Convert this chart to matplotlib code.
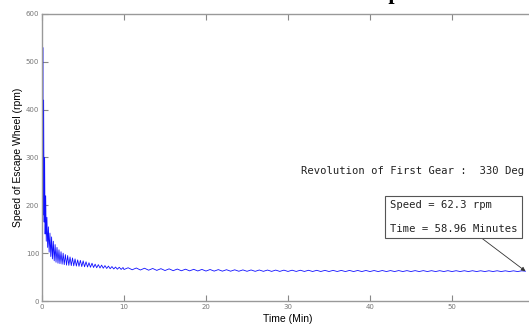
import matplotlib
matplotlib.use("Agg")
import matplotlib.pyplot as plt

# oscillation peaks / troughs (time in min, speed in rpm)
peak_t = [0.00, 0.10, 0.20, 0.32, 0.45, 0.60, 0.78, 0.97, 1.17, 1.38, 1.60, 1.83,
          2.07, 2.32, 2.58, 2.85, 3.13, 3.42, 3.72, 4.03, 4.35, 4.68, 5.02, 5.37,
          5.73, 6.10, 6.48, 6.87, 7.27, 7.68, 8.10, 8.53, 8.97, 9.42, 9.88,
          10.5, 11.5, 12.5, 13.5, 14.5, 15.5, 16.5, 17.5, 18.5, 19.5, 20.5, 21.5,
          22.5, 23.5, 24.5, 25.5, 26.5, 27.5, 28.5, 29.5, 30.5, 31.5, 32.5, 33.5,
          34.5, 35.5, 36.5, 37.5, 38.5, 39.5, 40.5, 41.5, 42.5, 43.5, 44.5, 45.5,
          46.5, 47.5, 48.5, 49.5, 50.5, 51.5, 52.5, 53.5, 54.5, 55.5, 56.5, 57.5,
          58.5]
peak_v = [578, 530, 420, 300, 220, 175, 155, 142, 134, 125, 118, 112,
          107, 103, 100, 97, 95, 92, 90, 88, 86, 85, 84, 82,
          80, 79, 77, 76, 75, 74, 73, 72, 71, 70.5, 70,
          69.5, 69, 68.5, 68, 67.6, 67.2, 66.8, 66.5, 66.2, 66, 65.8, 65.6,
          65.4, 65.2, 65, 64.9, 64.8, 64.7, 64.6, 64.5, 64.4, 64.3, 64.2, 64.1,
          64, 64, 63.9, 63.9, 63.8, 63.8, 63.7, 63.7, 63.6, 63.6, 63.5, 63.5,
          63.5, 63.4, 63.4, 63.4, 63.3, 63.3, 63.3, 63.2, 63.2, 63.2, 63.1, 63.1,
          63.1]

trough_t = [0.05, 0.15, 0.26, 0.38, 0.52, 0.69, 0.87, 1.07, 1.27, 1.49, 1.71,
            1.95, 2.19, 2.45, 2.71, 2.99, 3.27, 3.57, 3.87, 4.19, 4.51, 4.85,
            5.19, 5.55, 5.91, 6.29, 6.67, 7.07, 7.47, 7.89, 8.31, 8.75, 9.19,
            9.65, 10.0, 11.0, 12.0, 13.0, 14.0, 15.0, 16.0, 17.0, 18.0, 19.0,
            20.0, 21.0, 22.0, 23.0, 24.0, 25.0, 26.0, 27.0, 28.0, 29.0, 30.0,
            31.0, 32.0, 33.0, 34.0, 35.0, 36.0, 37.0, 38.0, 39.0, 40.0, 41.0,
            42.0, 43.0, 44.0, 45.0, 46.0, 47.0, 48.0, 49.0, 50.0, 51.0, 52.0,
            53.0, 54.0, 55.0, 56.0, 57.0, 58.0, 58.96]
trough_v = [190, 180, 165, 140, 125, 112, 102, 93, 88, 84, 81,
            79, 78, 77, 76, 75, 74.5, 74, 73.5, 73, 72.5, 72,
            71.5, 71, 70.5, 70, 69.5, 69, 68.5, 68, 67.5, 67, 66.5,
            66, 65.8, 65.3, 64.8, 64.4, 64, 63.7, 63.4, 63.2, 63, 62.8,
            62.6, 62.5, 62.4, 62.3, 62.2, 62.1, 62, 62, 61.9, 61.9, 61.8,
            61.8, 61.8, 61.7, 61.7, 61.7, 61.7, 61.6, 61.6, 61.6, 61.6, 61.6,
            61.6, 61.6, 61.6, 61.6, 61.6, 61.6, 61.6, 61.6, 61.6, 61.6, 61.6,
            61.6, 61.6, 61.6, 61.6, 61.6, 61.6, 62.3]

x_ticks = [0, 10, 20, 30, 40, 50]
y_ticks = [0, 100, 200, 300, 400, 500, 600]

final_time = 58.96
final_speed = 62.3
gear_rev = 330

# merge peaks and troughs into one trace
pts = sorted(zip(peak_t + trough_t, peak_v + trough_v))
t = [p[0] for p in pts]
v = [p[1] for p in pts]

fig = plt.figure(figsize=(5.29, 3.25), dpi=100)
ax = fig.add_axes([42 / 529, 1 - 301 / 325, 492 / 529, 287 / 325])

ax.plot(t, v, color="#1010ff", lw=0.6)

ax.set_xlim(0, 60)
ax.set_ylim(0, 600)
ax.set_xticks(x_ticks)
ax.set_yticks(y_ticks)
ax.tick_params(direction="in", length=4, width=0.8, color="#888888",
               labelsize=5, labelcolor="#777777", pad=2,
               top=True, right=False)
for s in ax.spines.values():
    s.set_color("#999999")
    s.set_linewidth(1.0)

ax.set_xlabel("Time (Min)", fontsize=7.5, family="Liberation Sans", labelpad=3)
ax.set_ylabel("Speed of Escape Wheel (rpm)", fontsize=7.5,
              family="Liberation Sans", labelpad=2)

mono = "DejaVu Sans Mono"
ax.text(31.6, 272, f"Revolution of First Gear :  {gear_rev} Deg",
        fontsize=7.6, family=mono, ha="left", va="center", color="#222222")

ax.annotate(f"Speed = {final_speed} rpm\n\nTime = {final_time} Minutes",
            xy=(final_time, final_speed), xytext=(50.2, 175.7),
            textcoords="data", ha="center", va="center", multialignment="left",
            fontsize=7.6, family=mono, color="#222222",
            bbox=dict(boxstyle="square,pad=0.45", fc="white", ec="#555555", lw=0.8),
            arrowprops=dict(arrowstyle="-|>", color="#333333", lw=0.6,
                            mutation_scale=6, shrinkA=0, shrinkB=0),
            annotation_clip=False)

# title sits above the cropped frame; only a descender peeks in
fig.text(0.561, 1 + 1 / 325, "Simulation Results of Escapement", fontsize=16,
         fontweight="bold", family="Liberation Serif", ha="center", va="baseline")

fig.savefig("out.png", dpi=100)
